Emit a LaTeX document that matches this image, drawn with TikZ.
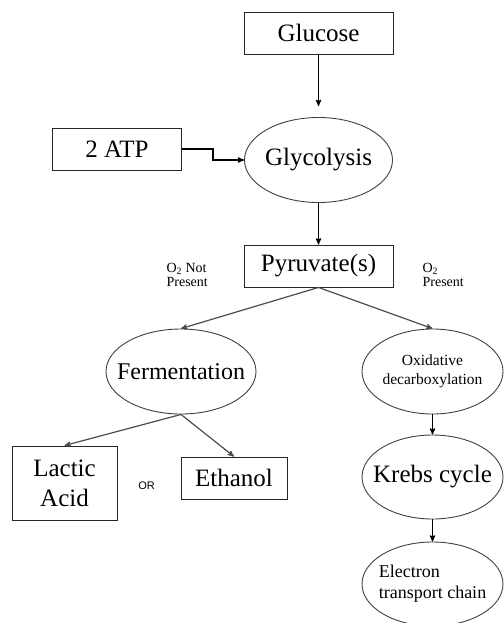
\documentclass[tikz,border=0pt]{standalone}
\usepackage{fontspec}
\setmainfont{Liberation Serif}
\newfontfamily\orfont{Liberation Sans}
\usepackage{tikz}
\usetikzlibrary{arrows,shapes.geometric}

\begin{document}
\begin{tikzpicture}[->, >=stealth', x=1pt, y=-1pt, line width=1.2pt, node distance=106pt]
	\tikzstyle{every node}=[font=\fontsize{25}{30}\selectfont]
	\tikzstyle{stage}=[draw=black!85, line width=0.9pt, rectangle, inner sep=0pt, minimum height=42pt, align=center]
	\tikzstyle{process}=[draw=black!75, line width=0.9pt, ellipse, inner sep=0pt, inner xsep=-40pt, minimum width=141pt, minimum height=85pt, align=center]
	\tikzstyle{note}=[font=\fontsize{14}{14.5}\selectfont, align=left, inner sep=0pt]

	\useasboundingbox (0,0) rectangle (503,623);

	\node[stage, minimum width=149pt] (glucose) at (318.5,33) {Glucose};
	\node[process, minimum width=148pt] (glyc) [below of=glucose, node distance=127pt] {Glycolysis};
	\node[stage, minimum width=129pt] (atp) [left of=glyc, node distance=201.5pt, yshift=11pt] {2 ATP};
	\node[stage, minimum width=149pt] (pyr) [below of=glyc] {Pyruvate(s)};

	\node[note, anchor=west] (nopres) at (166,275) {O\textsubscript{2} Not\\Present};
	\node[note, anchor=west] (pres) at (422,275) {O\textsubscript{2}\\Present};

	\node[process, minimum width=150pt, font=\fontsize{24}{28}\selectfont] (ferm) [below of=pyr, node distance=105.5pt, xshift=-137.5pt] {Fermentation};
	\node[process, font=\fontsize{15.5}{19}\selectfont] (oxid) [below of=pyr, node distance=105.5pt, xshift=114pt] {Oxidative\\decarboxylation};
	\node[process, minimum height=84pt] (krebs) [below of=oxid, node distance=105.5pt] {Krebs cycle};
	\node[process, minimum height=84pt, align=left, font=\fontsize{18}{21}\selectfont] (etc) [below of=krebs, node distance=107pt] {Electron\\transport chain};

	\node[stage, minimum width=105pt, minimum height=74pt] (lactic) [below of=ferm, node distance=111.5pt, xshift=-116.5pt] {Lactic\\Acid};
	\node[stage, minimum width=106pt] (ethanol) [below of=ferm, node distance=106.5pt, xshift=53pt] {Ethanol};
	\node[font=\orfont\fontsize{11}{12}\selectfont] (or) [right of=lactic, node distance=82pt, yshift=-3pt] {OR};

	\draw[shorten >=11pt] (glucose) -- (glyc);
	\draw (atp.east) -- ++(31,0) |- (glyc.west);
	\draw (glyc) -- (pyr);
	\draw[draw=black!70] (pyr.south) -- (ferm.north);
	\draw[draw=black!70] (pyr.south) -- (oxid.north);
	\draw (oxid) -- (krebs);
	\draw (krebs) -- (etc);
	\draw[draw=black!70] (ferm.south) -- (lactic.north);
	\draw[draw=black!70] (ferm.south) -- (ethanol.north);

\end{tikzpicture}
\end{document}
